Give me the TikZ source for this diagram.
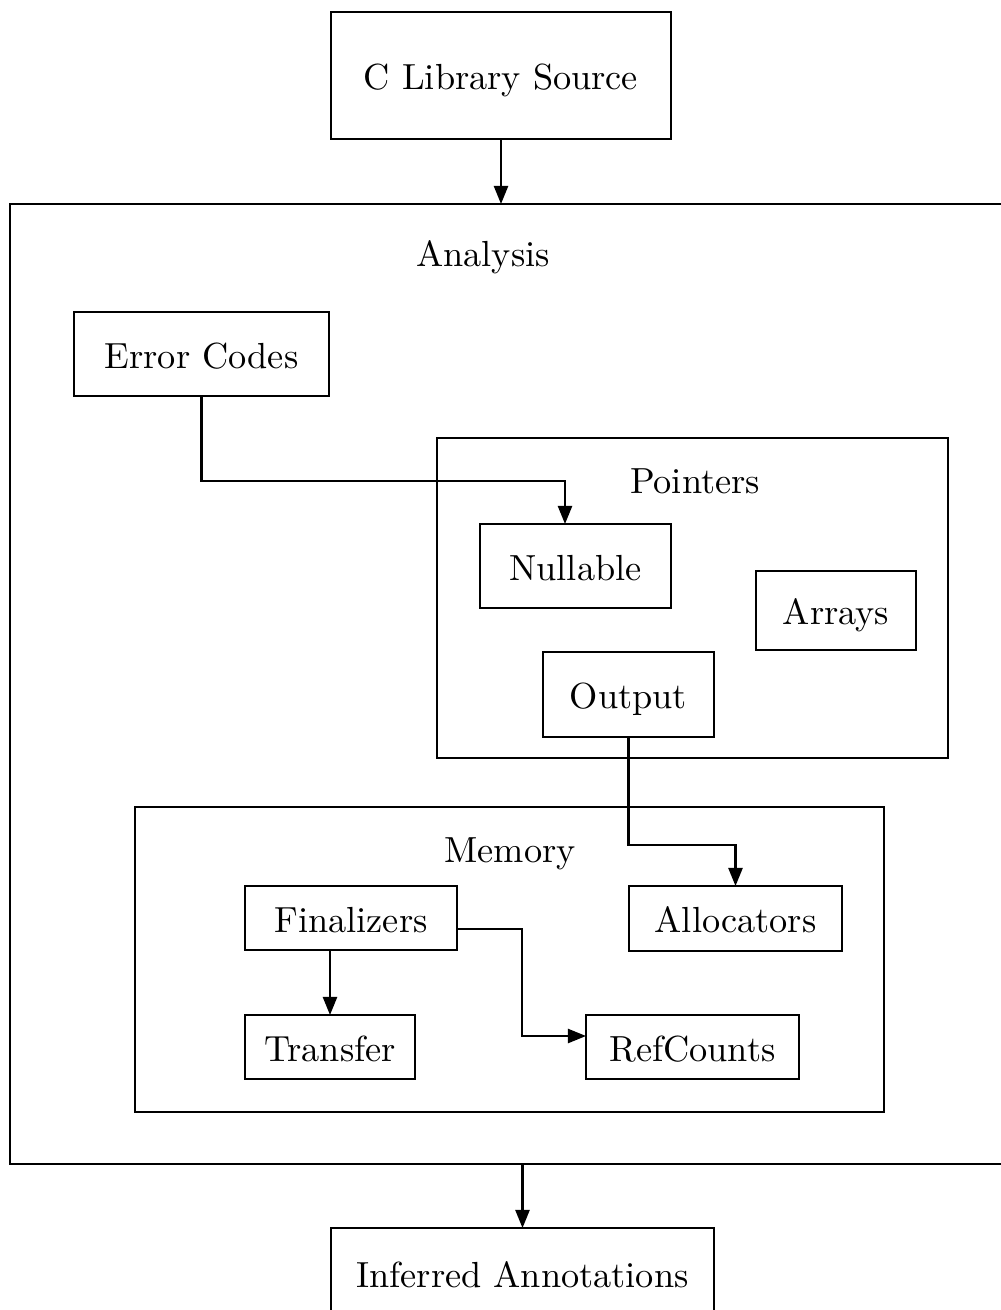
\documentclass[tikz,border=0pt]{standalone}
\usetikzlibrary{arrows.meta,calc}
% one drawing unit = one pixel of the layout grid
\newcommand\pxu{0.2755pt}
\begin{document}
\begin{tikzpicture}[x=0.2755pt,y=-0.2755pt,
  font=\fontsize{10}{12}\selectfont,
  every node/.style={inner sep=0pt,outer sep=0pt},
  % uniform text box: the baseline sits 14 units below the node centre
  txt/.style={text height=7.72pt,text depth=0pt},
  box/.style 2 args={txt,draw,line width=0.6pt,rectangle,minimum width=#1*\pxu,minimum height=#2*\pxu},
  cluster/.style 2 args={draw,line width=0.6pt,rectangle,minimum width=#1*\pxu,minimum height=#2*\pxu},
  arr/.style={line width=0.6pt,-{Triangle[length=5pt,width=3.9pt]}}]
\useasboundingbox (0,0) rectangle (1001,1310);
\clip (0,0) rectangle (1001,1310);

% clusters
\node[cluster={1005}{960}] (analysis) at (512.5,684) {};
\node[txt] (analysislbl) at (483,252) {Analysis};
\node[cluster={511}{320}] (pointers) at (692.5,598) {};
\node[txt] (pointerslbl) at (695,479) {Pointers};
\node[cluster={749}{305}] (memory) at (509.5,959.5) {};
\node[txt] (memorylbl) at (510,848) {Memory};

% boxes
\node[box={340}{127}] (src) at (501,75.5) {C Library Source};
\node[box={255}{84}] (err) at (201.5,354) {Error Codes};
\node[box={191}{84}] (nullable) at (575.5,566) {Nullable};
\node[box={160}{79}] (arrays) at (836,610.5) {Arrays};
\node[box={171}{85}] (output) at (628.5,694.5) {Output};
\node[box={212}{64}] (fin) at (351,918) {Finalizers};
\node[box={213}{65}] (alloc) at (735.5,918.5) {Allocators};
\node[box={170}{64}] (transfer) at (330,1047) {Transfer};
\node[box={213}{64}] (refc) at (692.5,1047) {RefCounts};
\node[box={383}{90}] (ann) at (522.5,1273) {Inferred Annotations};

% connectors
\draw[arr] (src.south) -- (src.south |- analysis.north);
\draw[arr] (ann.north |- analysis.south) -- (ann.north);
\coordinate (e1) at (565,481);
\draw[arr] (err.south) |- (e1) -- (e1 |- nullable.north);
\coordinate (o1) at (628.5,845);
\draw[arr] (output.south) -- (o1) -| (alloc.north);
\draw[arr] (fin.south -| transfer.north) -- (transfer.north);
\draw[arr] ([yshift=-11*\pxu]fin.east) -- ++(65,0) |- ([yshift=11*\pxu]refc.west);
\end{tikzpicture}
\end{document}
